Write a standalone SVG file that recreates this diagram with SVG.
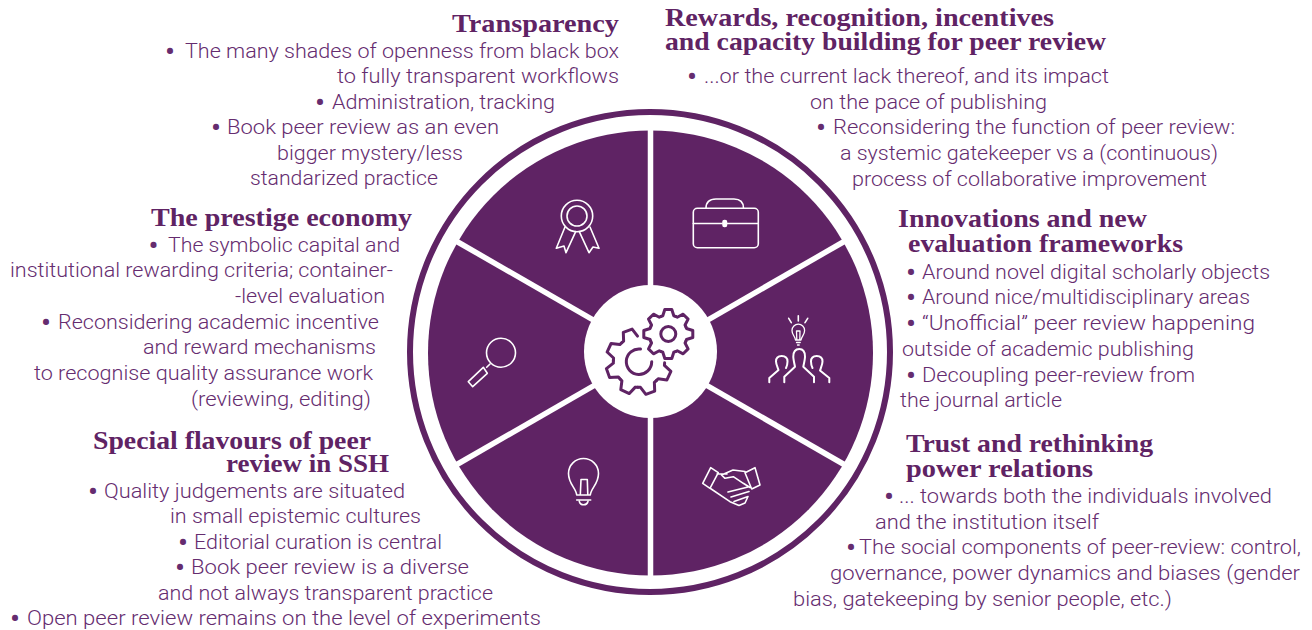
<svg xmlns="http://www.w3.org/2000/svg" xmlns:xlink="http://www.w3.org/1999/xlink" width="1312" height="630" viewBox="0 0 1312 630">
<style>
.t{font-family:"Roboto","Liberation Sans",sans-serif;font-weight:300;font-size:20.5px;fill:#652c6f}
.b{font-weight:700;font-size:26px;text-anchor:middle}
.h{font-family:"Liberation Serif",serif;font-weight:700;font-size:26px;fill:#5f2364}
.i{fill:none;stroke:#fff;stroke-width:1.6;stroke-linejoin:round;stroke-linecap:round}
.g{fill:none;stroke:#5f2364;stroke-width:3;stroke-linejoin:round;stroke-linecap:round}
</style>
<defs>
<path id="tooth" d="M-7.27-17.55L-5.5-18.2L-3.5-24.5L3.5-24.5L5.5-18.2L7.27-17.55"/>
<path id="toothL" d="M-9.8-23.7L-7.4-24.6L-4.7-33L4.7-33L7.4-24.6L9.8-23.7"/>
</defs>
<rect width="1312" height="630" fill="#fff"/>
<g id="wheel">
<circle cx="650" cy="352" r="240" fill="none" stroke="#5f2364" stroke-width="6"/>
<circle cx="650.5" cy="353" r="222.5" fill="#5f2364"/>
</g>
<g id="connectors" stroke="#fff" stroke-width="5.5" fill="none">
<line x1="650.5" y1="125" x2="650.5" y2="582"/>
<line x1="456" y1="241" x2="845" y2="465"/>
<line x1="456" y1="465" x2="845" y2="241"/>
</g>
<g id="hub">
<circle cx="650.5" cy="351.5" r="66.5" fill="#fff"/>
<g class="g">
<circle cx="668.3" cy="334" r="7.5"/>
<g transform="translate(668.3 334)">
<use href="#tooth"/><use href="#tooth" transform="rotate(45)"/><use href="#tooth" transform="rotate(90)"/><use href="#tooth" transform="rotate(135)"/><use href="#tooth" transform="rotate(180)"/><use href="#tooth" transform="rotate(225)"/><use href="#tooth" transform="rotate(270)"/><use href="#tooth" transform="rotate(315)"/>
</g>
<path d="M640.5 349.1A12.7 12.7 0 1 0 651.7 361.7"/>
<g transform="translate(639 361.7)">
<path d="M-9.8-23.7L-7.4-24.6L-4.7-33L4.7-33L7.4-24.6" transform="rotate(-20)"/>
<use href="#toothL" transform="rotate(-65)"/><use href="#toothL" transform="rotate(-110)"/><use href="#toothL" transform="rotate(-155)"/><use href="#toothL" transform="rotate(160)"/><use href="#toothL" transform="rotate(115)"/>
</g>
</g>
</g>
<g id="transparency">
<g class="i"><circle cx="577" cy="216" r="15.7"/><circle cx="577" cy="216" r="10"/><path d="M565 227L556.3 248.3L564 246L566 252.7L575.7 231.7M579.3 231.7L589 252.7L593 247L599 248.3L590 227"/></g>
<text class="h" x="452" y="32" textLength="167" lengthAdjust="spacingAndGlyphs">Transparency</text>
<text class="t"><tspan class="b" x="170" y="60">•</tspan><tspan x="185" y="58" textLength="434" lengthAdjust="spacingAndGlyphs">The many shades of openness from black box</tspan></text>
<text class="t" x="337" y="83" textLength="282" lengthAdjust="spacingAndGlyphs">to fully transparent workflows</text>
<text class="t"><tspan class="b" x="320" y="111">•</tspan><tspan x="332" y="109" textLength="223" lengthAdjust="spacingAndGlyphs">Administration, tracking</tspan></text>
<text class="t"><tspan class="b" x="216" y="136">•</tspan><tspan x="227" y="134" textLength="272" lengthAdjust="spacingAndGlyphs">Book peer review as an even</tspan></text>
<text class="t" x="277" y="160" textLength="186" lengthAdjust="spacingAndGlyphs">bigger mystery/less</text>
<text class="t" x="250" y="185" textLength="188" lengthAdjust="spacingAndGlyphs">standarized practice</text>
</g>
<g id="rewards">
<g class="i"><rect x="693.3" y="208.3" width="65" height="39.4" rx="4"/><path d="M693.3 223.5H722M727.5 223.5H758.3M706 208.3C706 202 710 199 716 199H734C740 199 743.5 202 743.5 208.3"/><rect x="723" y="220.5" width="3.5" height="6" rx="1.5" fill="#fff"/></g>
<text class="h" x="665" y="26" textLength="389" lengthAdjust="spacingAndGlyphs">Rewards, recognition, incentives</text>
<text class="h" x="665" y="50" textLength="441" lengthAdjust="spacingAndGlyphs">and capacity building for peer review</text>
<text class="t"><tspan class="b" x="692" y="85">•</tspan><tspan x="704" y="83" textLength="405" lengthAdjust="spacingAndGlyphs">...or the current lack thereof, and its impact</tspan></text>
<text class="t" x="810" y="109" textLength="237" lengthAdjust="spacingAndGlyphs">on the pace of publishing</text>
<text class="t"><tspan class="b" x="821" y="136">•</tspan><tspan x="833" y="134" textLength="402" lengthAdjust="spacingAndGlyphs">Reconsidering the function of peer review:</tspan></text>
<text class="t" x="840" y="160" textLength="378" lengthAdjust="spacingAndGlyphs">a systemic gatekeeper vs a (continuous)</text>
<text class="t" x="852" y="186" textLength="355" lengthAdjust="spacingAndGlyphs">process of collaborative improvement</text>
</g>
<g id="innovations">
<g class="i"><path d="M788.7 318.3L791.3 322.7M798.3 315.7V321M807.7 318.3L805 322.7"/><path stroke-width="1.3" d="M795.5 340C795 336 792 335 792 330.5A6.3 6.3 0 0 1 804.6 330.5C804.6 335 801.6 336 801 340ZM796.5 342.5H800.2M797.5 345H799.2M796.8 340L796.5 331H800L799.8 340"/>
<path stroke-width="2" d="M784.3 382.3V376.7L795 366.7C794 362 793.3 359 793.3 356.7C793.3 352 795.5 349 799.3 349C803 349 805 352 805 356.7C805 359 804.3 362 803.3 366.7L814 376.7V382.3M769.3 382.3V378L778.5 370C777 366 776 364 776 361.5C776 357 778.5 356 781.7 356C785 356 787.5 357.5 787.5 361.5C787.5 364 787 366 786 368M829.3 382.3V378L820 370.5C821.5 366 822.5 364 822.5 361.5C822.5 357 820 356 816.7 356C813.5 356 811 357.5 811 361.5C811 364 811.5 366 812.5 368"/></g>
<text class="h" x="898" y="227" textLength="249" lengthAdjust="spacingAndGlyphs">Innovations and new</text>
<text class="h" x="908" y="252" textLength="275" lengthAdjust="spacingAndGlyphs">evaluation frameworks</text>
<text class="t"><tspan class="b" x="911" y="281">•</tspan><tspan x="922" y="279" textLength="348" lengthAdjust="spacingAndGlyphs">Around novel digital scholarly objects</tspan></text>
<text class="t"><tspan class="b" x="911" y="306">•</tspan><tspan x="922" y="304" textLength="328" lengthAdjust="spacingAndGlyphs">Around nice/multidisciplinary areas</tspan></text>
<text class="t"><tspan class="b" x="911" y="332">•</tspan><tspan x="922" y="330" textLength="333" lengthAdjust="spacingAndGlyphs">“Unofficial” peer review happening</tspan></text>
<text class="t" x="902" y="356" textLength="292" lengthAdjust="spacingAndGlyphs">outside of academic publishing</text>
<text class="t"><tspan class="b" x="911" y="384">•</tspan><tspan x="922" y="382" textLength="273" lengthAdjust="spacingAndGlyphs">Decoupling peer-review from</tspan></text>
<text class="t" x="900" y="407" textLength="162" lengthAdjust="spacingAndGlyphs">the journal article</text>
</g>
<g id="trust">
<g class="i" stroke-width="2"><path d="M702.7 483.3L710.7 467.7L718.3 472.7L710 488.3ZM745 472.7L755 467.7L760 485L751.7 489ZM745 471.5L733 470L721.5 475L725 478.3L733.3 476.7L743.3 483.3L750 487.5M710.5 488.5L730 501.7L739 505.5L745 503L748 496.5M717 474H727M728 492L748 487M731 497L749 491.5M734 501.5L748 496.5"/></g>
<text class="h" x="906" y="452" textLength="247" lengthAdjust="spacingAndGlyphs">Trust and rethinking</text>
<text class="h" x="906" y="477" textLength="187" lengthAdjust="spacingAndGlyphs">power relations</text>
<text class="t"><tspan class="b" x="889" y="505">•</tspan><tspan x="899" y="503" textLength="373" lengthAdjust="spacingAndGlyphs">... towards both the individuals involved</tspan></text>
<text class="t" x="875" y="529" textLength="224" lengthAdjust="spacingAndGlyphs">and the institution itself</text>
<text class="t"><tspan class="b" x="851" y="556">•</tspan><tspan x="859" y="554" textLength="442" lengthAdjust="spacingAndGlyphs">The social components of peer-review: control,</tspan></text>
<text class="t" x="830" y="580" textLength="470" lengthAdjust="spacingAndGlyphs">governance, power dynamics and biases (gender</text>
<text class="t" x="793" y="606" textLength="379" lengthAdjust="spacingAndGlyphs">bias, gatekeeping by senior people, etc.)</text>
</g>
<g id="special-flavours">
<g class="i" stroke-width="2"><path d="M576.7 495C576 488 568.5 484 568.5 473.5A15 15 0 0 1 598.5 473.5C598.5 484 591 488 590.3 495ZM580.3 495L581 479.5H587.3L587.8 495M576.7 500H590.7M579.3 501.5C580 504 582 504.8 583.7 504.8C585.5 504.8 587.3 504 588 501.5"/></g>
<text class="h" x="93" y="449" textLength="278" lengthAdjust="spacingAndGlyphs">Special flavours of peer</text>
<text class="h" x="226" y="472" textLength="163" lengthAdjust="spacingAndGlyphs">review in SSH</text>
<text class="t"><tspan class="b" x="93" y="500">•</tspan><tspan x="104" y="498" textLength="301" lengthAdjust="spacingAndGlyphs">Quality judgements are situated</tspan></text>
<text class="t" x="170" y="523" textLength="251" lengthAdjust="spacingAndGlyphs">in small epistemic cultures</text>
<text class="t"><tspan class="b" x="183" y="551">•</tspan><tspan x="194" y="549" textLength="248" lengthAdjust="spacingAndGlyphs">Editorial curation is central</tspan></text>
<text class="t"><tspan class="b" x="180" y="576">•</tspan><tspan x="191" y="574" textLength="278" lengthAdjust="spacingAndGlyphs">Book peer review is a diverse</tspan></text>
<text class="t" x="158" y="600" textLength="335" lengthAdjust="spacingAndGlyphs">and not always transparent practice</text>
<text class="t"><tspan class="b" x="15" y="627">•</tspan><tspan x="27" y="625" textLength="514" lengthAdjust="spacingAndGlyphs">Open peer review remains on the level of experiments</tspan></text>
</g>
<g id="prestige-economy">
<g class="i" stroke-width="2"><circle cx="501" cy="352.7" r="14.5"/><path d="M468.3 381.7L472.7 386.7L487.3 373.3L483.3 367.3ZM486.7 367.3L490 364"/></g>
<text class="h" x="151" y="226" textLength="261" lengthAdjust="spacingAndGlyphs">The prestige economy</text>
<text class="t"><tspan class="b" x="153.5" y="254">•</tspan><tspan x="168" y="252" textLength="232" lengthAdjust="spacingAndGlyphs">The symbolic capital and</tspan></text>
<text class="t" x="10" y="277" textLength="383" lengthAdjust="spacingAndGlyphs">institutional rewarding criteria; container-</text>
<text class="t" x="235" y="303" textLength="150" lengthAdjust="spacingAndGlyphs">-level evaluation</text>
<text class="t"><tspan class="b" x="46" y="331">•</tspan><tspan x="58" y="329" textLength="321" lengthAdjust="spacingAndGlyphs">Reconsidering academic incentive</tspan></text>
<text class="t" x="143" y="354" textLength="233" lengthAdjust="spacingAndGlyphs">and reward mechanisms</text>
<text class="t" x="34" y="380" textLength="339" lengthAdjust="spacingAndGlyphs">to recognise quality assurance work</text>
<text class="t" x="191" y="406" textLength="180" lengthAdjust="spacingAndGlyphs">(reviewing, editing)</text>
</g>
</svg>
